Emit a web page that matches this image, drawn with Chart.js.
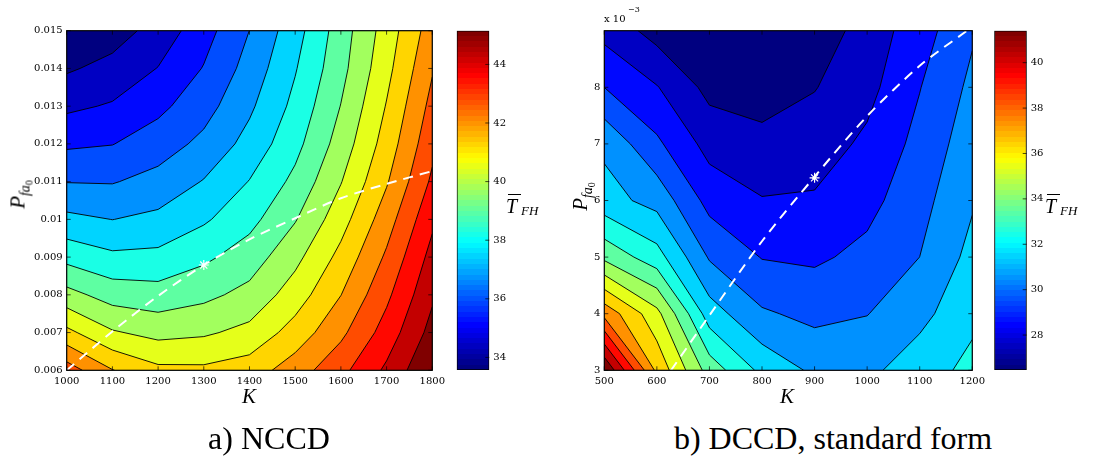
<!DOCTYPE html>
<html>
<head>
<meta charset="utf-8">
<script src="https://cdn.jsdelivr.net/npm/chart.js@4.4.0/dist/chart.umd.min.js"></script>
<style>
body { margin: 0; background: #fff; width: 1094px; height: 457px; overflow: hidden; position: relative; }
canvas { position: absolute; top: 0; }
.t { position: absolute; line-height: 1; white-space: nowrap; font-family: "Liberation Serif", "DejaVu Serif", serif; color: #000; }
.i { font-style: italic; }
.bar { position: absolute; height: 1.2px; background: #000; }
</style>
</head>
<body>
<canvas id="nccd" width="450" height="400" style="left:0"></canvas>
<canvas id="nccdBar" width="90" height="400" style="left:450px"></canvas>
<canvas id="dccd" width="450" height="400" style="left:540px"></canvas>
<canvas id="dccdBar" width="104" height="400" style="left:990px"></canvas>

<!-- axis labels -->
<div class="t i" style="left:242px;top:386px;font-size:21px">K</div>
<div class="t i" style="left:780px;top:386px;font-size:21px">K</div>
<div class="t" style="left:-22px;top:184px;transform:rotate(-90deg);font-size:21px;width:80px;text-align:center"><span class="i">P</span><span class="i" style="font-size:14px;position:relative;top:5px">fa</span><span style="font-size:10px;position:relative;top:8px">0</span></div>
<div class="t" style="left:540px;top:186px;transform:rotate(-90deg);font-size:21px;width:80px;text-align:center"><span class="i">P</span><span class="i" style="font-size:14px;position:relative;top:5px">fa</span><span style="font-size:10px;position:relative;top:8px">0</span></div>
<div class="t" style="left:604px;top:14px;font-family:'DejaVu Serif';font-size:10px">x 10</div>
<div class="t" style="left:628px;top:6px;font-family:'DejaVu Serif';font-size:8px">&minus;3</div>

<!-- colorbar labels -->
<div class="t i" style="left:506px;top:196px;font-size:20px">T</div>
<div class="bar" style="left:508px;top:194px;width:13px"></div>
<div class="t i" style="left:521px;top:204px;font-size:13px">FH</div>
<div class="t i" style="left:1045px;top:196px;font-size:20px">T</div>
<div class="bar" style="left:1047px;top:194px;width:13px"></div>
<div class="t i" style="left:1060px;top:204px;font-size:13px">FH</div>

<!-- captions -->
<div class="t" style="left:169px;top:422px;width:200px;text-align:center;font-size:32px">a) NCCD</div>
<div class="t" style="left:633px;top:422px;width:400px;text-align:center;font-size:32px">b) DCCD, standard form</div>

<script>
// ---------- a) NCCD ----------
const kNccd = [1000, 1100, 1200, 1300, 1400, 1500, 1600, 1700, 1800];
const pNccd = [0.006, 0.007, 0.008, 0.009, 0.010, 0.011, 0.012, 0.013, 0.014, 0.015];
// T_FH, one row per P value (0.006 at the bottom), one column per K
const tNccd = [
  [42.62, 41.56, 40.98, 40.95, 41.17, 41.90, 42.77, 43.84, 45.15],
  [41.00, 40.16, 39.86, 39.98, 40.29, 41.11, 42.09, 43.29, 44.68],
  [39.61, 39.05, 38.93, 39.18, 39.58, 40.44, 41.52, 42.82, 44.31],
  [38.41, 38.06, 38.10, 38.49, 38.99, 39.88, 41.02, 42.37, 43.95],
  [37.37, 37.18, 37.36, 37.81, 38.41, 39.31, 40.51, 41.92, 43.55],
  [36.44, 36.42, 36.71, 37.23, 37.94, 38.82, 40.05, 41.46, 43.11],
  [35.62, 35.72, 36.11, 36.65, 37.44, 38.41, 39.67, 41.12, 42.77],
  [34.87, 35.09, 35.56, 36.18, 37.06, 38.11, 39.38, 40.85, 42.48],
  [34.20, 34.52, 35.04, 35.78, 36.74, 37.86, 39.13, 40.59, 42.19],
  [33.57, 33.96, 34.57, 35.45, 36.47, 37.62, 39.00, 40.41, 41.90]
];
const pathNccdK = [1000, 1100, 1200, 1300, 1400, 1500, 1600, 1700, 1800];
const pathNccdP = [0.0060, 0.00703, 0.00797, 0.00879, 0.00947, 0.01003, 0.01056, 0.01094, 0.01128];
const optNccd = [1300, 0.00879];
const barTicksNccd = [34, 36, 38, 40, 42, 44];

// ---------- b) DCCD, standard form ----------
const kDccd = [500, 600, 700, 800, 900, 1000, 1100, 1200];
const pDccd = [3, 4, 5, 6, 7, 8, 9]; // x 10^-3
const tDccd = [
  [41.41, 36.51, 33.53, 31.83, 30.95, 30.90, 31.67, 32.30],
  [37.39, 35.15, 31.58, 30.32, 29.95, 30.17, 30.84, 31.87],
  [33.71, 32.45, 30.10, 29.22, 29.11, 29.51, 30.20, 31.42],
  [31.49, 30.81, 28.94, 28.38, 28.43, 28.97, 29.88, 31.03],
  [30.94, 29.44, 27.99, 27.66, 27.88, 28.51, 29.55, 30.72],
  [29.26, 28.38, 27.12, 26.96, 27.35, 28.04, 29.23, 30.41],
  [28.03, 27.04, 26.65, 26.46, 26.82, 27.80, 28.84, 30.08]
];
const pathDccdK = [627, 700, 800, 900, 1000, 1100, 1190];
const pathDccdP = [3.0, 3.97, 5.28, 6.42, 7.49, 8.38, 9.0];
const optDccd = [900, 6.4];
const yTicksDccd = [3, 4, 5, 6, 7, 8];
const barTicksDccd = [28, 30, 32, 34, 36, 38, 40];

const NLEVELS = 15;
const tickFont = { family: 'DejaVu Serif', size: 10 };

function jet(t) {
  const f = v => Math.round(255 * Math.min(1, Math.max(0, 1.5 - Math.abs(4 * t - v))));
  return `rgb(${f(3)},${f(2)},${f(1)})`;
}

// filled contours (marching squares on the grid, through the chart scales)
const contourFill = {
  id: 'contourFill',
  beforeDatasetsDraw(chart, args, o) {
    const { ctx, chartArea: a } = chart;
    const xs = o.k.map(v => chart.scales.x.getPixelForValue(v));
    const ys = o.p.map(v => chart.scales.y.getPixelForValue(v));
    const z = o.z, lv = o.levels;
    const segs = [];
    ctx.save();
    ctx.beginPath();
    ctx.rect(a.left, a.top, a.width, a.height);
    ctx.clip();
    for (let b = 0; b <= lv.length; b++) {
      const t = b ? lv[b - 1] : -Infinity;
      ctx.beginPath();
      for (let i = 0; i < ys.length - 1; i++) {
        for (let j = 0; j < xs.length - 1; j++) {
          const c = [[j, i], [j + 1, i], [j + 1, i + 1], [j, i + 1]];
          const pts = [], cross = [];
          for (let q = 0; q < 4; q++) {
            const [j0, i0] = c[q], [j1, i1] = c[(q + 1) % 4];
            const z0 = z[i0][j0], z1 = z[i1][j1];
            if (z0 >= t) pts.push([xs[j0], ys[i0]]);
            if ((z0 >= t) !== (z1 >= t)) {
              const f = (t - z0) / (z1 - z0);
              const pt = [xs[j0] + f * (xs[j1] - xs[j0]), ys[i0] + f * (ys[i1] - ys[i0])];
              pts.push(pt);
              cross.push({ pt, out: z0 >= t });
            }
          }
          if (pts.length < 3) continue;
          ctx.moveTo(pts[0][0], pts[0][1]);
          for (let q = 1; q < pts.length; q++) ctx.lineTo(pts[q][0], pts[q][1]);
          ctx.closePath();
          cross.forEach((cp, q) => {
            if (cp.out) segs.push([cp.pt, cross[(q + 1) % cross.length].pt]);
          });
        }
      }
      ctx.fillStyle = jet(b / lv.length);
      ctx.fill();
    }
    ctx.beginPath();
    segs.forEach(([p0, p1]) => { ctx.moveTo(p0[0], p0[1]); ctx.lineTo(p1[0], p1[1]); });
    ctx.strokeStyle = '#000';
    ctx.lineWidth = 0.9;
    ctx.stroke();
    ctx.restore();
  }
};

// box + inward tick marks
const frame = {
  id: 'frame',
  afterDraw(chart) {
    const { ctx, chartArea: a, scales } = chart;
    ctx.save();
    ctx.strokeStyle = '#000';
    ctx.lineWidth = 0.7;
    ctx.beginPath();
    scales.x.ticks.forEach(t => {
      const x = scales.x.getPixelForValue(t.value);
      ctx.moveTo(x, a.bottom); ctx.lineTo(x, a.bottom - 4);
      ctx.moveTo(x, a.top); ctx.lineTo(x, a.top + 4);
    });
    scales.y.ticks.forEach(t => {
      const y = scales.y.getPixelForValue(t.value);
      ctx.moveTo(a.left, y); ctx.lineTo(a.left + 4, y);
      ctx.moveTo(a.right, y); ctx.lineTo(a.right - 4, y);
    });
    ctx.stroke();
    ctx.lineWidth = 1.2;
    ctx.strokeRect(a.left, a.top, a.width, a.height);
    ctx.restore();
  }
};

const barTicks = {
  id: 'barTicks',
  afterDraw(chart) {
    const { ctx, chartArea: a, scales } = chart;
    ctx.save();
    ctx.strokeStyle = '#000';
    ctx.lineWidth = 0.7;
    ctx.beginPath();
    scales.y.ticks.forEach(t => {
      const y = scales.y.getPixelForValue(t.value);
      ctx.moveTo(a.right, y); ctx.lineTo(a.right - 4, y);
    });
    ctx.stroke();
    ctx.restore();
  }
};

function levelsOf(grid) {
  const all = grid.flat();
  const lo = Math.min(...all), hi = Math.max(...all);
  const d = (hi - lo) / (NLEVELS + 1);
  return { lo, hi, levels: Array.from({ length: NLEVELS }, (_, i) => lo + (i + 1) * d) };
}

function contourChart(id, kVals, pVals, grid, pathK, pathP, opt, yTicks, yFmt, axisW, padRight) {
  const lv = levelsOf(grid);
  return new Chart(document.getElementById(id), {
    type: 'scatter',
    data: {
      datasets: [
        {
          type: 'line',
          data: pathK.map((k, i) => ({ x: k, y: pathP[i] })),
          borderColor: '#fff',
          borderWidth: 2,
          borderDash: [10, 7],
          pointRadius: 0,
          tension: 0.3,
          fill: false
        },
        {
          data: [{ x: opt[0], y: opt[1] }],
          pointStyle: 'star',
          pointRadius: 5,
          borderColor: '#fff',
          backgroundColor: '#fff',
          borderWidth: 1.2
        }
      ]
    },
    options: {
      responsive: false,
      animation: false,
      events: [],
      layout: { padding: { top: 30.7, right: padRight, left: 0, bottom: 0 } },
      plugins: {
        legend: { display: false },
        tooltip: { enabled: false },
        contourFill: { k: kVals, p: pVals, z: grid, levels: lv.levels }
      },
      scales: {
        x: {
          type: 'linear',
          min: kVals[0],
          max: kVals[kVals.length - 1],
          afterFit: s => { s.height = 29.7; },
          afterBuildTicks: s => { s.ticks = kVals.map(v => ({ value: v })); },
          grid: { display: false, drawTicks: false },
          border: { display: false },
          ticks: { font: tickFont, color: '#000', padding: 5, maxRotation: 0, autoSkip: false, callback: v => String(v) }
        },
        y: {
          type: 'linear',
          min: pVals[0],
          max: pVals[pVals.length - 1],
          afterFit: s => { s.width = axisW; },
          afterBuildTicks: s => { s.ticks = yTicks.map(v => ({ value: v })); },
          grid: { display: false, drawTicks: false },
          border: { display: false },
          ticks: { font: tickFont, color: '#000', padding: 4, autoSkip: false, callback: yFmt }
        }
      }
    },
    plugins: [contourFill, frame]
  });
}

function colorbarChart(id, grid, ticks, padLeft, axisW) {
  const lv = levelsOf(grid);
  return new Chart(document.getElementById(id), {
    type: 'bar',
    data: {
      labels: [''],
      datasets: [{
        data: [[lv.lo, lv.hi]],
        backgroundColor: c => {
          const a = c.chart.chartArea;
          if (!a) return '#000';
          const g = c.chart.ctx.createLinearGradient(0, a.bottom, 0, a.top);
          for (let i = 0; i < 64; i++) {
            g.addColorStop(i / 64, jet(i / 63));
            g.addColorStop((i + 1) / 64, jet(i / 63));
          }
          return g;
        },
        borderColor: '#000',
        borderWidth: 1.2,
        borderSkipped: false,
        barPercentage: 1,
        categoryPercentage: 1
      }]
    },
    options: {
      responsive: false,
      animation: false,
      events: [],
      layout: { padding: { left: padLeft, top: 30.7, bottom: 30, right: 0 } },
      plugins: { legend: { display: false }, tooltip: { enabled: false } },
      scales: {
        x: { display: false },
        y: {
          position: 'right',
          min: lv.lo,
          max: lv.hi,
          afterFit: s => { s.width = axisW; },
          afterBuildTicks: s => { s.ticks = ticks.map(v => ({ value: v })); },
          grid: { display: false, drawTicks: false },
          border: { display: false },
          ticks: { font: tickFont, color: '#000', padding: 4 }
        }
      }
    },
    plugins: [barTicks]
  });
}

contourChart('nccd', kNccd, pNccd, tNccd, pathNccdK, pathNccdP, optNccd, pNccd,
  v => String(+v.toFixed(3)), 66.7, 15.3);
colorbarChart('nccdBar', tNccd, barTicksNccd, 6.7, 50.7);
contourChart('dccd', kDccd, pDccd, tDccd, pathDccdK, pathDccdP, optDccd, yTicksDccd,
  v => String(v), 64.3, 16.7);
colorbarChart('dccdBar', tDccd, barTicksDccd, 4.3, 67.3);
</script>
</body>
</html>
